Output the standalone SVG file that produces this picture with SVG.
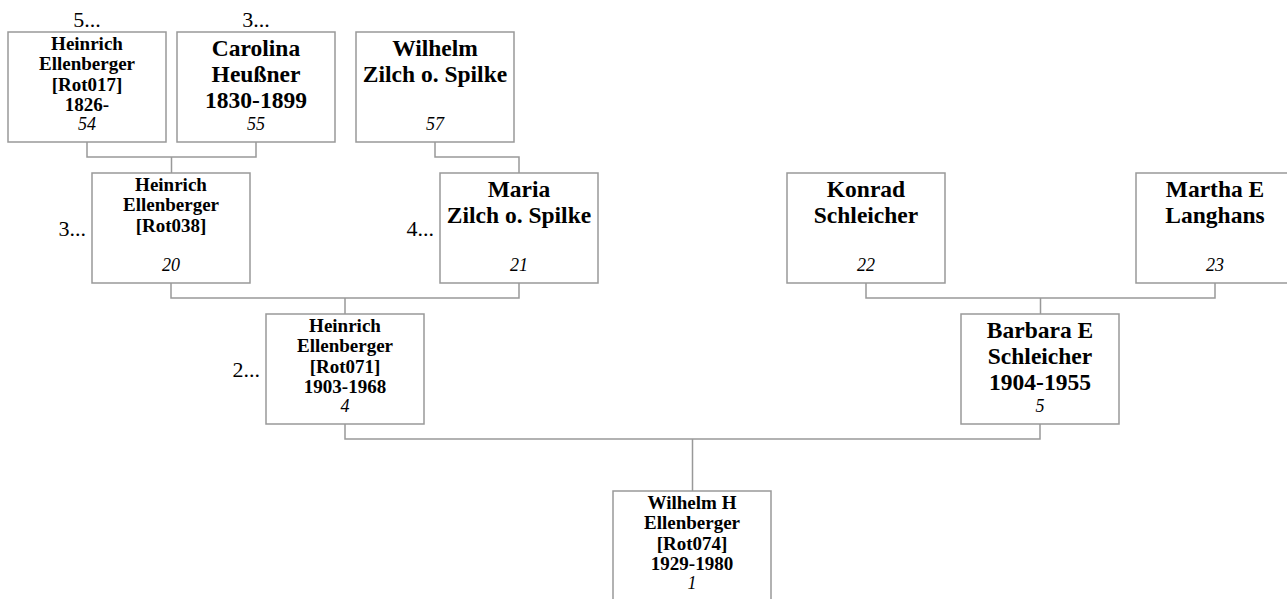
<svg xmlns="http://www.w3.org/2000/svg" width="1287" height="599" viewBox="0 0 1287 599">
<style>
  .box { fill: #ffffff; stroke: #999999; stroke-width: 1.5; }
  .conn { fill: none; stroke: #999999; stroke-width: 1.5; }
  text { font-family: "Liberation Serif", "Times New Roman", serif; fill: #000000; text-anchor: middle; }
  .big { font-size: 23.5px; font-weight: bold; }
  .sm { font-size: 19px; font-weight: bold; }
  .num { font-size: 18px; font-style: italic; }
  .lbl { font-size: 22px; }
  .end { text-anchor: end; }
</style>
<rect x="0" y="0" width="1287" height="599" fill="#ffffff"/>
<g id="connectors">
  <path class="conn" d="M87 142 V157 H256 V142 M171.5 157 V173"/>
  <path class="conn" d="M435 142 V157 H519 V173"/>
  <path class="conn" d="M171 283 V298 H519 V283 M345 298 V314"/>
  <path class="conn" d="M866 283 V298 H1215 V283 M1040.5 298 V314"/>
  <path class="conn" d="M345 424 V439 H1040 V424 M692.5 439 V491"/>
</g>
<g id="p54">
  <text class="lbl" x="87" y="27">5...</text>
  <rect class="box" x="8" y="32" width="158" height="110"/>
  <text class="sm" x="87" y="49.5">Heinrich</text>
  <text class="sm" x="87" y="70">Ellenberger</text>
  <text class="sm" x="87" y="90.5">[Rot017]</text>
  <text class="sm" x="87" y="111">1826-</text>
  <text class="num" x="87" y="130">54</text>
</g>
<g id="p55">
  <text class="lbl" x="256" y="27">3...</text>
  <rect class="box" x="177" y="32" width="158" height="110"/>
  <text class="big" x="256" y="55.5">Carolina</text>
  <text class="big" x="256" y="81.5">Heußner</text>
  <text class="big" x="256" y="107.5">1830-1899</text>
  <text class="num" x="256" y="130">55</text>
</g>
<g id="p57">
  <rect class="box" x="356" y="32" width="158" height="110"/>
  <text class="big" x="435" y="55.5">Wilhelm</text>
  <text class="big" x="435" y="81.5">Zilch o. Spilke</text>
  <text class="num" x="435" y="130">57</text>
</g>
<g id="p20">
  <text class="lbl end" x="86" y="236">3...</text>
  <rect class="box" x="92" y="173" width="158" height="110"/>
  <text class="sm" x="171" y="190.5">Heinrich</text>
  <text class="sm" x="171" y="211">Ellenberger</text>
  <text class="sm" x="171" y="231.5">[Rot038]</text>
  <text class="num" x="171" y="271">20</text>
</g>
<g id="p21">
  <text class="lbl end" x="434" y="236">4...</text>
  <rect class="box" x="440" y="173" width="158" height="110"/>
  <text class="big" x="519" y="196.5">Maria</text>
  <text class="big" x="519" y="222.5">Zilch o. Spilke</text>
  <text class="num" x="519" y="271">21</text>
</g>
<g id="p22">
  <rect class="box" x="787" y="173" width="158" height="110"/>
  <text class="big" x="866" y="196.5">Konrad</text>
  <text class="big" x="866" y="222.5">Schleicher</text>
  <text class="num" x="866" y="271">22</text>
</g>
<g id="p23">
  <rect class="box" x="1136" y="173" width="158" height="110"/>
  <text class="big" x="1215" y="196.5">Martha E</text>
  <text class="big" x="1215" y="222.5">Langhans</text>
  <text class="num" x="1215" y="271">23</text>
</g>
<g id="p4">
  <text class="lbl end" x="260" y="377">2...</text>
  <rect class="box" x="266" y="314" width="158" height="110"/>
  <text class="sm" x="345" y="331.5">Heinrich</text>
  <text class="sm" x="345" y="352">Ellenberger</text>
  <text class="sm" x="345" y="372.5">[Rot071]</text>
  <text class="sm" x="345" y="393">1903-1968</text>
  <text class="num" x="345" y="412">4</text>
</g>
<g id="p5">
  <rect class="box" x="961" y="314" width="158" height="110"/>
  <text class="big" x="1040" y="337.5">Barbara E</text>
  <text class="big" x="1040" y="363.5">Schleicher</text>
  <text class="big" x="1040" y="389.5">1904-1955</text>
  <text class="num" x="1040" y="412">5</text>
</g>
<g id="p1">
  <rect class="box" x="613" y="491" width="158" height="110"/>
  <text class="sm" x="692" y="508.5">Wilhelm H</text>
  <text class="sm" x="692" y="529">Ellenberger</text>
  <text class="sm" x="692" y="549.5">[Rot074]</text>
  <text class="sm" x="692" y="570">1929-1980</text>
  <text class="num" x="692" y="589">1</text>
</g>
</svg>
